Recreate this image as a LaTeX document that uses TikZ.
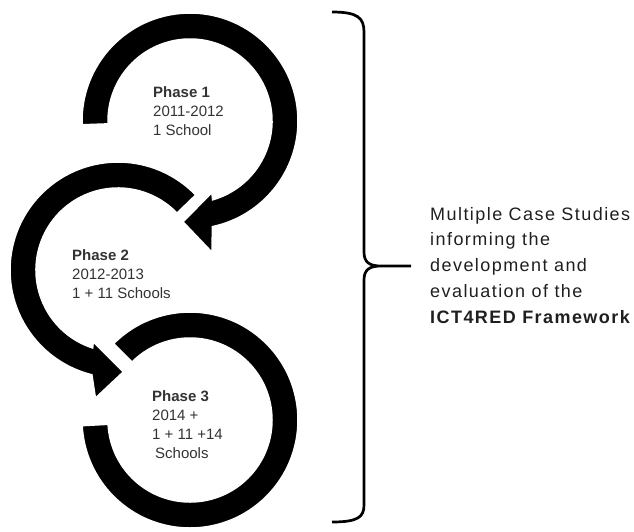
\documentclass[tikz,border=0pt]{standalone}
\usepackage{fontspec}
\setmainfont{Liberation Sans}
\newfontfamily\casefont[LetterSpace=8]{Liberation Sans}

\tikzset{
  ring/.style={fill=black, draw=white, line width=1.5pt, line join=miter},
  phasetext/.style={anchor=base west, align=left, inner sep=0pt, text=black!80,
    font=\fontsize{15}{19}\selectfont},
  casetext/.style={anchor=base west, align=left, inner sep=0pt, text=black!88,
    font=\casefont\fontsize{18}{25.7}\selectfont}
}

\begin{document}
\begin{tikzpicture}[x=1pt,y=-1pt]
        \useasboundingbox (0,0) rectangle (634,531);

            \coordinate (c1) at (190,121);
            \coordinate (c2) at (118,270);
            \coordinate (c3) at (190,420);

            \begin{scope}[shift={(c3)}]
              \path[ring] (-135:108) arc (-135:177:108) -- (177:82) arc (177:-135:82) -- cycle;
            \end{scope}
            \begin{scope}[shift={(c2)}]
              \path[ring] (-44:108) arc (-44:-256:108) -- (-260:130) -- (-273:102) -- (-251:76)
                -- (-252:82) arc (-252:-44:82) -- cycle;
            \end{scope}
            \begin{scope}[shift={(c1)}]
              \path[ring] (178:108) arc (178:438:108) -- (440.5:133) -- (454:101) -- (433:75)
                -- (434:82) arc (434:178:82) -- cycle;
            \end{scope}

            \path[draw,line width=2.7pt] (332,12) .. controls (358,12) and (364,18) .. (364,32)
              -- (364,252) .. controls (364,262) and (369,266) .. (381,266) -- (411,266)
              (381,266) .. controls (369,266) and (364,270) .. (364,280)
              -- (364,505) .. controls (364,517) and (358,522) .. (332,522);

            \node[phasetext] (p1) at (153,135) {\textbf{Phase 1}\\2011-2012\\1 School};
            \node[phasetext] (p2) at (72,298) {\textbf{Phase 2}\\2012-2013\\1 + 11 Schools};
            \node[phasetext] (p3) at (152,458) {\textbf{Phase 3}\\2014 +\\1 + 11 +14\\\hspace*{3pt}Schools};
            \node[casetext] (cases) at (430,323) {Multiple Case Studies\\informing the\\development and\\evaluation of the\\\textbf{ICT4RED Framework}};
        \end{tikzpicture}
\end{document}
